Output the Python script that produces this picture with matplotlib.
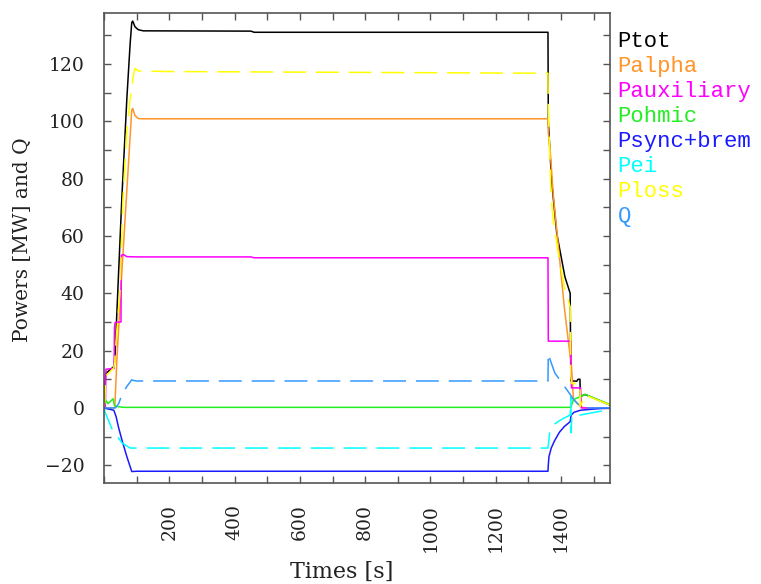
import numpy as np
import matplotlib
matplotlib.use("Agg")
import matplotlib.pyplot as plt
from matplotlib.ticker import MultipleLocator, FixedLocator

# values
t_tot = [0, 3, 5, 10, 31, 34, 45, 55, 70, 80, 85, 88, 95, 105, 120, 450, 460,
         1360, 1361, 1371, 1387, 1412, 1428, 1430, 1448, 1452, 1458, 1459, 1474, 1550]
p_tot = [2, 8, 12, 12.5, 14.5, 19, 48, 74, 108, 127, 134.5, 135, 133, 132, 131.6, 131.5, 131.1,
         131.1, 100, 79.4, 60.8, 45.7, 40, 9.5, 9.3, 10, 10, 4, 4.7, 1]

t_alpha = [0, 33, 40, 55, 70, 85, 88, 95, 105, 115, 1360, 1361, 1366, 1376, 1392, 1410,
           1428, 1431, 1438, 1460, 1470, 1550]
p_alpha = [0, 0, 18, 48, 76, 104, 104.5, 102, 101, 100.9, 100.9, 96, 91, 74.8, 56.2, 35.2,
           18, 16.3, 3, 0.5, 0, 0]

t_aux = [0, 4, 6, 31, 32, 34, 52, 53, 60, 70, 100, 450, 460, 1360, 1361, 1430, 1432,
         1460, 1462, 1550]
p_aux = [0, 0, 13.5, 13.8, 28, 29.8, 30, 53.3, 53.5, 52.8, 52.7, 52.7, 52.4, 52.4, 23.3,
         23.3, 7, 7, 0, 0]

t_ohm = [0, 4, 12, 28, 32, 40, 60, 1430, 1438, 1474, 1550]
p_ohm = [0.5, 3, 1.5, 3.2, 0.8, 0.5, 0.2, 0.2, 2.9, 4.7, 1.2]

t_rad = [0, 30, 37, 45, 55, 70, 85, 100, 1360, 1361, 1363, 1370, 1380, 1395, 1410, 1428,
         1431, 1440, 1460, 1500, 1550]
p_rad = [0, -0.8, -3, -7, -11.2, -17, -22.2, -22.1, -22.1, -20, -17, -14, -11.5, -8.5,
         -6.5, -4.8, -2.5, -1.5, -0.8, -0.4, 0]

t_ei = [0, 4, 24, 55, 80, 100, 1360, 1365, 1376, 1395, 1410, 1428, 1430, 1431, 1433,
        1458, 1513, 1550]
p_ei = [0, -1.7, -7.2, -12.2, -14, -14, -14, -8.8, -5.9, -4.5, -3.5, -2.5, 4, -8.7,
        -2.5, -2.5, -1.3, -0.8]

t_loss = [0, 3, 5, 30, 33, 37, 50, 57, 70, 81, 90, 95, 105, 200, 1360, 1361, 1366, 1369,
          1376, 1392, 1410, 1428, 1430, 1433, 1458, 1459, 1474, 1550]
p_loss = [0, 3, 11, 14, 16, 23.6, 42, 70, 97, 108.5, 116, 118.5, 117.6, 117.4, 116.8, 104,
          86.4, 74.8, 65.5, 53.8, 42.2, 35.2, 11, 8.5, 8.5, 0.5, 4.5, 1]

t_q = [0, 35, 45, 55, 70, 85, 90, 100, 1360, 1361, 1366, 1381, 1410, 1428, 1438, 1459,
       1461, 1550]
q = [0, 0, 1.5, 4.7, 7.5, 9.8, 9.6, 9.4, 9.4, 19, 17, 12.2, 7.6, 4.7, 3, 0.5, 0, 0]

x_labels = [200, 400, 600, 800, 1000, 1200, 1400]

names = ["Ptot", "Palpha", "Pauxiliary", "Pohmic", "Psync+brem", "Pei", "Ploss", "Q"]
colors = ["black", "#ff9429", "#ff00ff", "#22ee22", "#1a1aff", "#00ffff", "#ffff00", "#3399ff"]

series = [(t_tot, p_tot), (t_alpha, p_alpha), (t_aux, p_aux), (t_ohm, p_ohm),
          (t_rad, p_rad), (t_ei, p_ei), (t_loss, p_loss), (t_q, q)]
dashed = [False, False, False, False, False, True, True, True]

W, H = 761, 584
fig = plt.figure(figsize=(W / 100, H / 100), dpi=100)
ax = fig.add_axes([104 / W, 1 - 483 / H, (610 - 104) / W, (483 - 12.5) / H])

for (tt, vv), c, d in zip(series, colors, dashed):
    line, = ax.plot(tt, vv, color=c, lw=1.1)
    if d:
        line.set_dashes((15, 6.5))

ax.set_xlim(0, 1550)
ax.set_ylim(-26.2, 138)

ax.xaxis.set_major_locator(FixedLocator(x_labels))
ax.xaxis.set_minor_locator(MultipleLocator(100))
ax.yaxis.set_major_locator(MultipleLocator(20))
ax.yaxis.set_minor_locator(MultipleLocator(10))

gray = "#555555"
for s in ax.spines.values():
    s.set_color(gray)
    s.set_linewidth(1.2)
ax.tick_params(which="both", direction="in", length=5, width=1.0, color=gray,
               top=True, right=True)
ax.tick_params(axis="x", which="major", pad=15, labelrotation=90)
ax.tick_params(axis="y", which="major", pad=14)

serif = "DejaVu Serif"
for lab in ax.get_xticklabels() + ax.get_yticklabels():
    lab.set_fontfamily(serif)
    lab.set_fontsize(13.5)
    lab.set_color("#222222")

fig.text(23 / W, 1 - 240 / H, "Powers [MW] and Q", fontsize=14.5, family=serif,
         rotation=90, ha="center", va="center", color="#222222")
fig.text(342 / W, 1 - 572 / H, "Times [s]", fontsize=16, family=serif,
         ha="center", va="center", color="#222222")

# legend as coloured text next to the plot
for i, (n, c) in enumerate(zip(names, colors)):
    fig.text(617.5 / W, 1 - (47.3 + 24.9 * i) / H, n, color=c, fontsize=16,
             family="Liberation Mono", ha="left", va="baseline")

fig.savefig("out.png", dpi=100)
